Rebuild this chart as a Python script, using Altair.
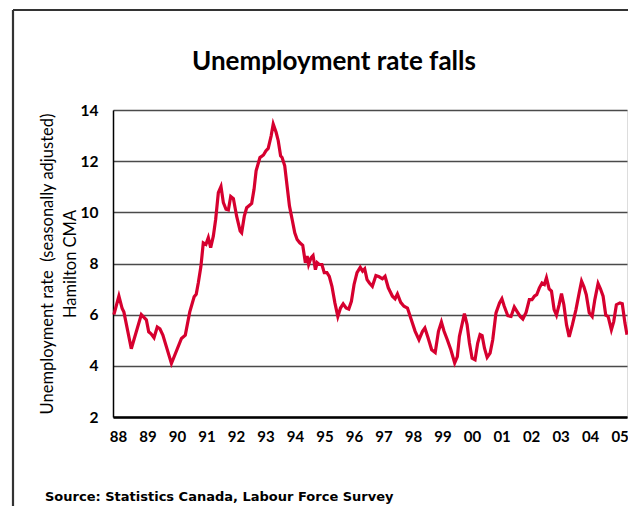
import altair as alt
import pandas as pd

# decimal years and unemployment rate (%)
years = [
    1988.03, 1988.20, 1988.31, 1988.37, 1988.62, 1988.96, 1989.13, 1989.21, 1989.29, 1989.39,
    1989.50, 1989.59, 1989.69, 1989.98, 1990.32, 1990.45, 1990.60, 1990.75, 1990.82, 1990.89,
    1990.98, 1991.06, 1991.15, 1991.23, 1991.31, 1991.40, 1991.48, 1991.57, 1991.66, 1991.74,
    1991.83, 1991.91, 1991.99, 1992.08, 1992.19, 1992.31, 1992.36, 1992.45, 1992.53, 1992.62,
    1992.70, 1992.78, 1992.85, 1992.98, 1993.10, 1993.18, 1993.26, 1993.36, 1993.43, 1993.53,
    1993.60, 1993.68, 1993.73, 1993.82, 1993.90, 1993.98, 1994.07, 1994.16, 1994.24, 1994.33,
    1994.43, 1994.52, 1994.58, 1994.63, 1994.71, 1994.78, 1994.86, 1994.92, 1994.99, 1995.08,
    1995.16, 1995.25, 1995.33, 1995.42, 1995.52, 1995.62, 1995.71, 1995.80, 1995.90, 1995.99,
    1996.08, 1996.17, 1996.27, 1996.38, 1996.46, 1996.53, 1996.61, 1996.69, 1996.79, 1996.91,
    1997.02, 1997.13, 1997.22, 1997.33, 1997.47, 1997.56, 1997.64, 1997.75, 1997.86, 1997.98,
    1998.09, 1998.24, 1998.37, 1998.49, 1998.57, 1998.68, 1998.80, 1998.92, 1999.03, 1999.13,
    1999.22, 1999.33, 1999.45, 1999.58, 1999.67, 1999.74, 1999.91, 2000.00, 2000.08, 2000.17,
    2000.27, 2000.36, 2000.44, 2000.51, 2000.59, 2000.68, 2000.78, 2000.87, 2000.98, 2001.10,
    2001.18, 2001.26, 2001.38, 2001.49, 2001.60, 2001.69, 2001.80, 2001.89, 2002.00, 2002.11,
    2002.20, 2002.28, 2002.36, 2002.45, 2002.54, 2002.62, 2002.69, 2002.78, 2002.86, 2002.95,
    2003.03, 2003.12, 2003.20, 2003.28, 2003.37, 2003.46, 2003.57, 2003.69, 2003.80, 2003.88,
    2003.96, 2004.04, 2004.14, 2004.24, 2004.33, 2004.44, 2004.52, 2004.61, 2004.70, 2004.78,
    2004.89, 2004.97, 2005.06, 2005.18, 2005.26, 2005.35, 2005.42,
]
rates = [
    6.00, 6.73, 6.24, 6.10, 4.67, 6.00, 5.80, 5.33, 5.25, 5.10,
    5.52, 5.45, 5.20, 4.09, 5.07, 5.20, 6.10, 6.70, 6.80, 7.24,
    7.89, 8.81, 8.75, 9.01, 8.62, 9.07, 9.73, 10.77, 11.01, 10.38,
    10.12, 10.09, 10.62, 10.54, 9.85, 9.27, 9.20, 9.85, 10.18, 10.27,
    10.35, 10.90, 11.62, 12.14, 12.24, 12.40, 12.50, 12.99, 13.45, 13.12,
    12.80, 12.21, 12.14, 11.82, 11.03, 10.25, 9.73, 9.20, 8.94, 8.81,
    8.71, 8.03, 8.29, 7.96, 8.22, 8.31, 7.76, 8.03, 7.96, 7.96,
    7.64, 7.64, 7.50, 7.11, 6.46, 5.93, 6.26, 6.42, 6.26, 6.22,
    6.52, 7.18, 7.64, 7.85, 7.70, 7.79, 7.37, 7.24, 7.11, 7.53,
    7.48, 7.40, 7.50, 7.05, 6.72, 6.62, 6.81, 6.48, 6.33, 6.26,
    5.87, 5.35, 5.02, 5.35, 5.48, 5.09, 4.63, 4.52, 5.35, 5.71,
    5.35, 5.02, 4.63, 4.11, 4.36, 5.15, 6.04, 5.61, 4.89, 4.30,
    4.24, 4.89, 5.22, 5.18, 4.69, 4.33, 4.50, 5.02, 6.07, 6.46,
    6.62, 6.33, 5.96, 5.93, 6.30, 6.13, 5.93, 5.83, 6.09, 6.59,
    6.59, 6.72, 6.78, 7.05, 7.24, 7.18, 7.44, 7.01, 6.92, 6.20,
    5.98, 6.39, 6.82, 6.39, 5.61, 5.13, 5.61, 6.20, 6.85, 7.31,
    7.09, 6.78, 6.07, 5.93, 6.59, 7.22, 7.01, 6.72, 5.98, 5.93,
    5.41, 5.73, 6.39, 6.46, 6.43, 5.67, 5.22,
]
tick_years = list(range(1988, 2006))
y_ticks = [2, 4, 6, 8, 10, 12, 14]

title_text = "Unemployment rate falls"
y_title = ["Unemployment rate \u00a0(seasonally adjusted)", "Hamilton CMA"]
source_text = ["Source: Statistics Canada, Labour Force Survey"]

df = pd.DataFrame({"year": years, "rate": rates})
FONT = "Lato"

line = alt.Chart(df).mark_line(color="#d6002f", strokeWidth=3.2).encode(
    x=alt.X(
        "year:Q",
        scale=alt.Scale(domain=[1988, 2005.42], nice=False, zero=False),
        axis=alt.Axis(
            values=tick_years,
            labelExpr="substring(toString(datum.value), 2, 4)",
            title=None,
            grid=False,
            ticks=False,
            tickOffset=5,
            labelFont=FONT,
            labelFontWeight="bold",
            labelFontSize=15,
            labelColor="black",
            labelPadding=12,
            labelFlush=False,
            labelOverlap=False,
            domainColor="black",
            domainWidth=2.5,
        ),
    ),
    y=alt.Y(
        "rate:Q",
        scale=alt.Scale(domain=[2, 14], nice=False, zero=False),
        axis=alt.Axis(
            values=y_ticks,
            title=y_title,
            titleFont=FONT,
            titleFontWeight="normal",
            titleFontSize=16.5,
            titleColor="black",
            titleLineHeight=23,
            titleAngle=-90,
            titleAlign="center",
            titleBaseline="top",
            titleX=-74,
            titleY=153.5,
            ticks=False,
            labelFont=FONT,
            labelFontWeight="bold",
            labelFontSize=15.5,
            labelColor="black",
            labelPadding=15,
            gridColor="#4a4a4a",
            gridWidth=1.3,
            domainColor="black",
            domainWidth=1.5,
        ),
    ),
)

one = pd.DataFrame({"k": [0]})
frame_v = alt.Chart(one).mark_rule(color="#333333", strokeWidth=2.2).encode(
    x=alt.value(-100), y=alt.value(-100), y2=alt.value(420)
)
frame_h = alt.Chart(one).mark_rule(color="#333333", strokeWidth=2.2).encode(
    y=alt.value(-100), x=alt.value(-100), x2=alt.value(540)
)

source = alt.Chart(pd.DataFrame({"t": source_text})).mark_text(
    align="left", baseline="alphabetic", font="DejaVu Sans", fontWeight="bold", fontSize=13, color="black"
).encode(text="t:N", x=alt.value(-68), y=alt.value(391))

title = alt.Chart(pd.DataFrame({"t": [title_text]})).mark_text(
    align="center", baseline="alphabetic", font=FONT, fontWeight="bold", fontSize=26, color="black"
).encode(text="t:N", x=alt.value(221), y=alt.value(-40))

chart = alt.layer(frame_v, frame_h, line, title, source).properties(
    width=514,
    height=307,
    autosize=alt.AutoSizeParams(type="none"),
    padding={"left": 105, "top": 102, "right": 1, "bottom": 89},
).configure_view(stroke="#555555", strokeWidth=1.5).configure(background="white")

chart.save("out.html", embed_options={"renderer": "svg", "actions": False})
